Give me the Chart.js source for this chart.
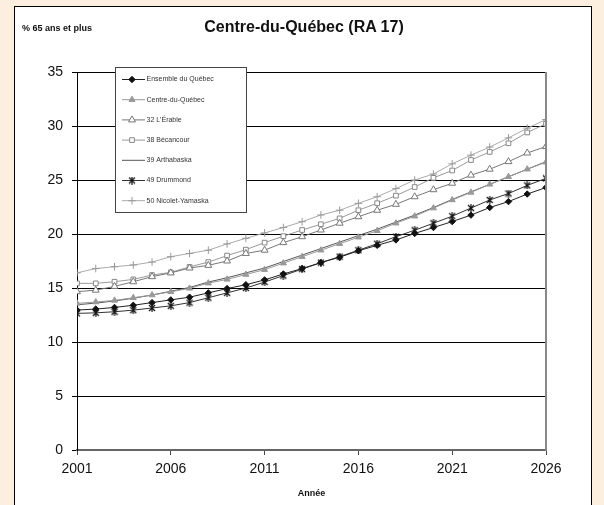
<!DOCTYPE html>
<html><head><meta charset="utf-8">
<script src="https://cdn.jsdelivr.net/npm/chart.js@4.4.0/dist/chart.umd.min.js"></script>
<style>
html,body{margin:0;padding:0;background:#fcefdf;width:604px;height:505px;overflow:hidden;font-family:"Liberation Sans",Arial,sans-serif;}
#frame{position:absolute;left:14px;top:6px;width:578px;height:520px;background:#fff;border:1px solid #000;box-sizing:border-box;}
#c{position:absolute;left:0;top:0;}
.t{position:absolute;white-space:nowrap;color:#111;font-family:"Liberation Sans",Arial,sans-serif;}
</style></head><body>
<div id="frame"></div>
<canvas id="c" width="604" height="505"></canvas>
<div class="t" style="left:22px;top:23px;font-size:9px;font-weight:bold;">% 65 ans et plus</div>
<div class="t" style="left:0;width:608px;text-align:center;top:18px;font-size:16px;font-weight:bold;">Centre-du-Québec (RA 17)</div>
<div class="t" style="left:0;width:623px;text-align:center;top:488px;font-size:9px;font-weight:bold;">Année</div>
<script>
const years = [2001,2002,2003,2004,2005,2006,2007,2008,2009,2010,2011,2012,2013,2014,2015,2016,2017,2018,2019,2020,2021,2022,2023,2024,2025,2026];
const xTicks = [2001,2006,2011,2016,2021,2026];
const yTicks = [0,5,10,15,20,25,30,35];
const seriesNames = ["Ensemble du Québec","Centre-du-Québec","32 L'Érable","38 Bécancour","39 Arthabaska","49 Drummond","50 Nicolet-Yamaska"];

const ensemble   = [12.96,13.05,13.2,13.4,13.65,13.9,14.15,14.55,14.95,15.3,15.75,16.3,16.8,17.35,17.85,18.45,18.95,19.45,20.05,20.6,21.15,21.75,22.45,23.0,23.7,24.3];
const centre     = [13.58,13.7,13.85,14.1,14.35,14.65,14.97,15.45,15.8,16.25,16.7,17.3,17.9,18.5,19.1,19.7,20.3,21.0,21.65,22.4,23.15,23.85,24.6,25.3,26.0,26.65];
const erable     = [14.66,14.8,15.15,15.58,16.05,16.4,16.85,17.1,17.5,18.2,18.5,19.2,19.75,20.37,21.0,21.6,22.2,22.75,23.45,24.1,24.7,25.45,26.0,26.7,27.5,28.1];
const becancour  = [15.43,15.43,15.58,15.8,16.2,16.45,16.95,17.4,18.0,18.55,19.2,19.8,20.37,20.9,21.45,22.2,22.85,23.55,24.35,25.2,25.88,26.85,27.6,28.4,29.4,30.2];
const arthabaska = [13.45,13.6,13.8,14.05,14.35,14.7,15.05,15.55,15.95,16.4,16.85,17.45,18.05,18.65,19.25,19.85,20.45,21.1,21.75,22.45,23.2,23.9,24.6,25.3,26.0,26.7];
const drummond   = [12.65,12.7,12.8,12.95,13.15,13.35,13.65,14.1,14.55,15.0,15.55,16.15,16.75,17.35,17.9,18.5,19.1,19.75,20.35,21.0,21.65,22.4,23.15,23.75,24.5,25.15];
const nicolet    = [16.4,16.8,16.97,17.13,17.4,17.9,18.2,18.5,19.08,19.6,20.1,20.6,21.14,21.76,22.2,22.84,23.45,24.2,25.0,25.55,26.5,27.3,28.05,28.9,29.8,30.6];

function starImg(){
  const c=document.createElement('canvas');c.width=8;c.height=8;
  const g=c.getContext('2d');g.strokeStyle='#111';g.lineWidth=1.2;
  g.beginPath();g.moveTo(1,1);g.lineTo(7,7);g.moveTo(7,1);g.lineTo(1,7);g.moveTo(4,0);g.lineTo(4,8);g.stroke();
  return c;
}
const star = starImg();

function pts(arr){ return years.map((yr,i)=>({x:yr,y:arr[i]})); }

const styles = [
  {data:ensemble,  line:'#222', ps:'rectRot', r:3.2, bg:'#111', bc:'#111', bw:1},
  {data:centre,    line:'#999', ps:'triangle',r:3.5, bg:'#999', bc:'#999', bw:1},
  {data:erable,    line:'#777', ps:'triangle',r:4,   bg:'#fff', bc:'#777', bw:1},
  {data:becancour, line:'#999', ps:'rect',    r:3.3, bg:'#fff', bc:'#888', bw:1},
  {data:arthabaska,line:'#555', ps:'circle',  r:0,   bg:'#555', bc:'#555', bw:0},
  {data:drummond,  line:'#333', ps:star,      r:4,   bg:'#111', bc:'#111', bw:1},
  {data:nicolet,   line:'#aaa', ps:'cross',   r:3.8, bg:'#999', bc:'#999', bw:1}
];

const datasets = styles.map((s,i)=>({
  label: seriesNames[i], data: pts(s.data), borderColor: s.line, borderWidth: 1,
  pointStyle: s.ps, pointRadius: s.r, pointBackgroundColor: s.bg, pointBorderColor: s.bc,
  pointBorderWidth: s.bw, tension: 0, fill: false
}));

function drawMarker(ctx, ds, x, y){
  ctx.fillStyle = ds.pointBackgroundColor; ctx.strokeStyle = ds.pointBorderColor; ctx.lineWidth = ds.pointBorderWidth;
  if (Chart.helpers && Chart.helpers.drawPoint) {
    Chart.helpers.drawPoint(ctx, {pointStyle: ds.pointStyle, radius: ds.pointRadius, borderWidth: ds.pointBorderWidth, rotation: 0}, x, y);
  }
}

const legendPlugin = {
  id: 'boxLegend',
  afterDraw(chart){
    const ctx = chart.ctx; ctx.save();
    const bx=115.5, by=67.5, bw=131, bh=145;
    ctx.fillStyle='#fff'; ctx.fillRect(bx,by,bw,bh);
    ctx.strokeStyle='#444'; ctx.lineWidth=1; ctx.strokeRect(bx,by,bw,bh);
    chart.data.datasets.forEach((ds,i)=>{
      const y = 79.5 + i*20.2;
      ctx.strokeStyle = ds.borderColor; ctx.lineWidth = ds.borderWidth;
      ctx.beginPath(); ctx.moveTo(122,y); ctx.lineTo(145,y); ctx.stroke();
      if (ds.pointRadius > 0) drawMarker(ctx, ds, 132, y);
      ctx.fillStyle='#333'; ctx.font='7px "Liberation Sans", Arial, sans-serif';
      ctx.textAlign='left'; ctx.textBaseline='middle';
      ctx.fillText(ds.label, 146.5, y);
    });
    ctx.restore();
  }
};

const rightBorder = {
  id: 'rightBorder',
  afterDatasetsDraw(chart){
    const {ctx, chartArea:a} = chart; ctx.save();
    ctx.strokeStyle='#888'; ctx.lineWidth=2;
    ctx.beginPath(); ctx.moveTo(a.right, a.top); ctx.lineTo(a.right, a.bottom+1); ctx.stroke();
    ctx.restore();
  }
};

new Chart(document.getElementById('c'), {
  type: 'line',
  data: { datasets },
  options: {
    responsive:false, animation:false, devicePixelRatio:1,
    layout:{padding:{left:47,top:72,right:58,bottom:25}},
    plugins:{legend:{display:false},title:{display:false},tooltip:{enabled:false}},
    scales:{
      x:{type:'linear',min:2001,max:2026,
        afterBuildTicks:s=>{s.ticks=xTicks.map(v=>({value:v}));},
        afterFit:s=>{s.height=30;},
        grid:{drawOnChartArea:false,drawTicks:true,tickLength:5,color:'#444',lineWidth:1},
        border:{color:'#666',width:2},
        ticks:{padding:6,font:{family:'Liberation Sans',size:14},color:'#111',maxRotation:0,autoSkip:false,callback:v=>String(v)}},
      y:{min:0,max:35,
        afterBuildTicks:s=>{s.ticks=yTicks.map(v=>({value:v}));},
        afterFit:s=>{s.width=30;},
        grid:{color:'#000',lineWidth:1,tickLength:5},
        border:{color:'#000',width:1},
        ticks:{padding:9,font:{family:'Liberation Sans',size:14},color:'#111'}}
    }
  },
  plugins:[rightBorder, legendPlugin]
});
</script>
</body></html>
